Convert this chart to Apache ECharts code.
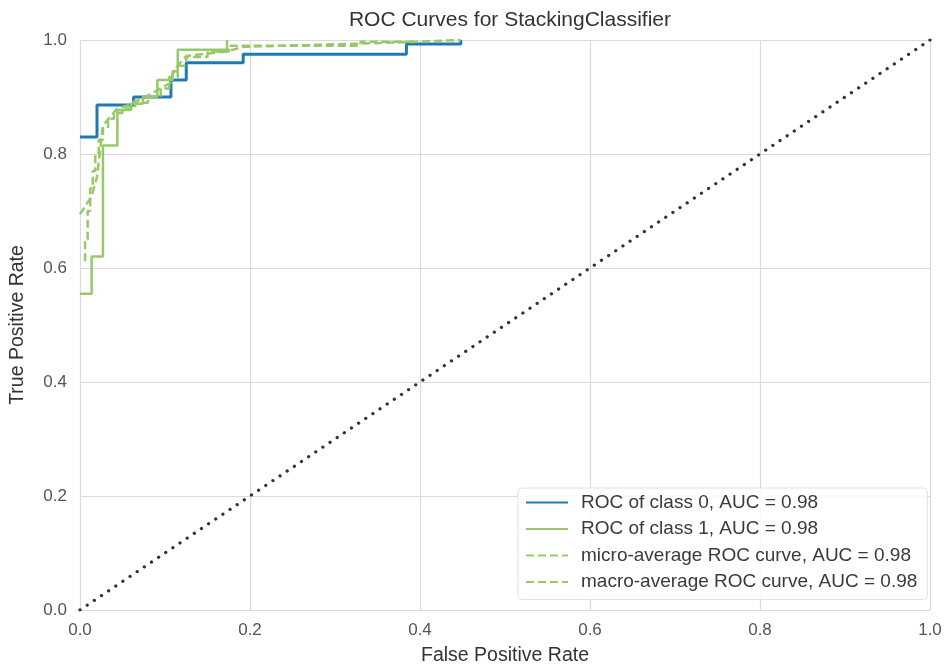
<!DOCTYPE html>
<html>
<head>
<meta charset="utf-8">
<script src="https://cdn.jsdelivr.net/npm/echarts@6/dist/echarts.min.js"></script>
<style>
  html, body { margin: 0; padding: 0; background: #fff; }
  #chart { width: 951px; height: 667px; }
</style>
</head>
<body>
<div id="chart"></div>
<script>
// ROC points: [fpr, tpr]
const class0 = [
  [0, 0.83], [0.02, 0.83], [0.02, 0.886], [0.063, 0.886], [0.063, 0.9],
  [0.107, 0.9], [0.107, 0.93], [0.125, 0.93], [0.125, 0.96], [0.192, 0.96],
  [0.192, 0.975], [0.384, 0.975], [0.384, 0.993], [0.448, 0.993], [0.448, 1.0]
];
const class1 = [
  [0, 0.555], [0.0137, 0.555], [0.0137, 0.62], [0.027, 0.62], [0.027, 0.815],
  [0.044, 0.815], [0.044, 0.877], [0.06, 0.877], [0.06, 0.888], [0.074, 0.888],
  [0.074, 0.9], [0.091, 0.9], [0.091, 0.93], [0.109, 0.93], [0.109, 0.945],
  [0.115, 0.945], [0.115, 0.983], [0.173, 0.983], [0.173, 1.0]
];
const microAvg = [
  [0.006, 0.612], [0.006, 0.65], [0.009, 0.65], [0.009, 0.7], [0.012, 0.7],
  [0.012, 0.74], [0.015, 0.74], [0.015, 0.77], [0.018, 0.77], [0.018, 0.8],
  [0.022, 0.8], [0.022, 0.825], [0.027, 0.825], [0.027, 0.845], [0.033, 0.845],
  [0.033, 0.862], [0.04, 0.862], [0.04, 0.872], [0.05, 0.872], [0.05, 0.88],
  [0.065, 0.88], [0.065, 0.89], [0.08, 0.89], [0.08, 0.9], [0.095, 0.9],
  [0.095, 0.915], [0.105, 0.915], [0.105, 0.935], [0.115, 0.935], [0.115, 0.955],
  [0.125, 0.955], [0.125, 0.97], [0.15, 0.97], [0.15, 0.98], [0.175, 0.98],
  [0.175, 0.99], [0.33, 0.99], [0.33, 0.997], [0.39, 0.997], [0.39, 1.0]
];
const macroAvg = [
  [0, 0.694], [0.0137, 0.726], [0.02, 0.76], [0.027, 0.85], [0.044, 0.88],
  [0.06, 0.887], [0.064, 0.892], [0.074, 0.897], [0.091, 0.912], [0.107, 0.925],
  [0.109, 0.94], [0.115, 0.955], [0.125, 0.972], [0.173, 0.98], [0.192, 0.988],
  [0.384, 0.996], [0.448, 1.0]
];
const chance = [[0, 0], [1, 1]];

const blue = '#1f7ab4';
const green = '#98c968';
const font = 'Liberation Sans, Arial, sans-serif';

const chart = echarts.init(document.querySelector('#chart'));
const option = {
  animation: false,
  title: {
    text: 'ROC Curves for StackingClassifier',
    left: 505, top: 5, textAlign: 'center',
    textStyle: { fontFamily: font, fontSize: 21, fontWeight: 'normal', color: '#333' }
  },
  grid: { left: 80, right: 21, top: 40, bottom: 57, outerBoundsMode: 'none', containLabel: false },
  legend: {
    orient: 'vertical',
    left: 518, top: 488,
    padding: [5, 10, 8, 7],
    itemWidth: 42, itemHeight: 14, itemGap: 7.5,
    backgroundColor: 'rgba(255,255,255,0.85)',
    borderColor: '#e2e2e2', borderWidth: 1, borderRadius: 4,
    itemStyle: { opacity: 0 },
    textStyle: { fontFamily: font, fontSize: 19, color: '#3a3a3a', padding: [0, 0, 0, 8] },
    data: [
      'ROC of class 0, AUC = 0.98',
      'ROC of class 1, AUC = 0.98',
      'micro-average ROC curve, AUC = 0.98',
      'macro-average ROC curve, AUC = 0.98'
    ]
  },
  xAxis: {
    type: 'value', min: 0, max: 1, interval: 0.2,
    name: 'False Positive Rate', nameLocation: 'middle', nameGap: 36,
    nameTextStyle: { fontFamily: font, fontSize: 19.5, color: '#333' },
    axisLine: { show: false }, axisTick: { show: false },
    axisLabel: { fontFamily: font, fontSize: 17, color: '#555', margin: 12,
      formatter: v => v.toFixed(1) },
    splitLine: { show: true, lineStyle: { color: '#dadada', width: 1.2 } }
  },
  yAxis: {
    type: 'value', min: 0, max: 1, interval: 0.2,
    name: 'True Positive Rate', nameLocation: 'middle', nameGap: 52,
    nameTextStyle: { fontFamily: font, fontSize: 19.5, color: '#333' },
    axisLine: { show: false }, axisTick: { show: false },
    axisLabel: { fontFamily: font, fontSize: 17, color: '#555', margin: 13,
      formatter: v => v.toFixed(1) },
    splitLine: { show: true, lineStyle: { color: '#dadada', width: 1.2 } }
  },
  series: [
    {
      name: 'chance', type: 'line', data: chance, symbol: 'none', silent: true,
      lineStyle: { color: '#333', width: 3.2, type: [0.1, 8.5], cap: 'round' }
    },
    {
      name: 'ROC of class 0, AUC = 0.98', type: 'line', data: class0, symbol: 'none',
      color: blue, lineStyle: { color: blue, width: 3 }
    },
    {
      name: 'ROC of class 1, AUC = 0.98', type: 'line', data: class1, symbol: 'none',
      color: green, lineStyle: { color: green, width: 2.5 }
    },
    {
      name: 'micro-average ROC curve, AUC = 0.98', type: 'line', data: microAvg, symbol: 'none',
      color: green, lineStyle: { color: green, width: 2.5, type: [8, 4] }
    },
    {
      name: 'macro-average ROC curve, AUC = 0.98', type: 'line', data: macroAvg, symbol: 'none',
      color: green, lineStyle: { color: green, width: 2.5, type: [8, 4] }
    }
  ]
};
chart.setOption(option);
</script>
</body>
</html>
